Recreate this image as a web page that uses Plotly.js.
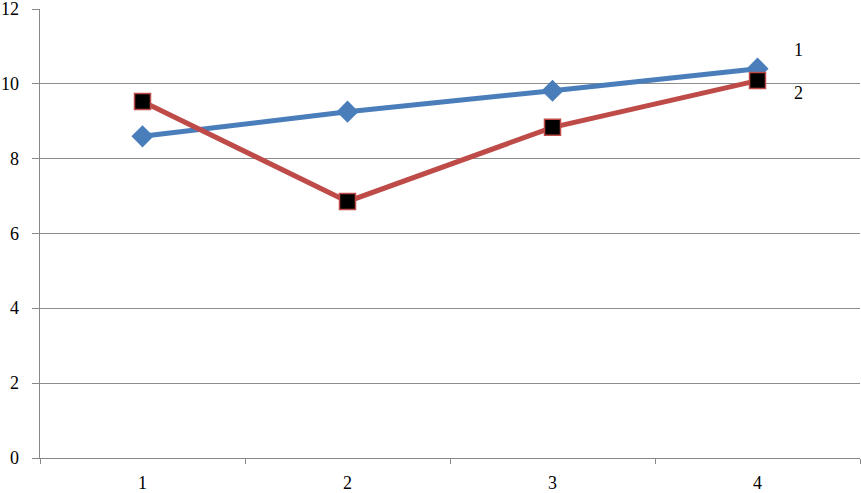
<!DOCTYPE html>
<html>
<head>
<meta charset="utf-8">
<script src="https://cdn.plot.ly/plotly-3.0.1.min.js"></script>
<style>
html,body{margin:0;padding:0;background:#fff}
#chart{width:861px;height:493px}
</style>
</head>
<body>
<div id="chart"></div>
<script>
const categories = [1, 2, 3, 4];
const categoryLabels = ["1", "2", "3", "4"];
const series1Name = "1";
const series1 = [8.6, 9.26, 9.82, 10.41];
const series2Name = "2";
const series2 = [9.53, 6.86, 8.84, 10.09];
const yTicks = [0, 2, 4, 6, 8, 10, 12];
const categoryBounds = [0.5, 1.5, 2.5, 3.5, 4.5];

function mkFont() { return {family: "Liberation Serif", size: 18, color: "#000"}; }

const traces = [
  {x: categories, y: series1, name: series1Name, mode: "lines+markers", type: "scatter",
   line: {color: "#4a7ebb", width: 5}, marker: {symbol: "diamond", size: 17, color: "#4a7ebb"}},
  {x: categories, y: series2, name: series2Name, mode: "lines+markers", type: "scatter",
   line: {color: "#be4b48", width: 5}, marker: {symbol: "square", size: 16, color: "#000", line: {color: "#be4b48", width: 1.5}}}
];

const xLabelAnns = categories.map((c, i) => ({
  xref: "x", yref: "paper", x: c, y: 0, yanchor: "top", yshift: -13,
  text: categoryLabels[i], showarrow: false, font: mkFont()
}));
const yLabelAnns = yTicks.map(v => ({
  xref: "paper", yref: "y", x: 0, y: v, xanchor: "right", yanchor: "middle", xshift: -19,
  text: String(v), showarrow: false, font: mkFont()
}));
const seriesLabelAnns = [
  {xref: "paper", yref: "y", x: 0.925, y: 10.9, text: series1Name, showarrow: false, xanchor: "center", font: mkFont()},
  {xref: "paper", yref: "y", x: 0.925, y: 9.75, text: series2Name, showarrow: false, xanchor: "center", font: mkFont()}
];

const layout = {
  width: 861, height: 493,
  margin: {l: 40, r: 1, t: 9, b: 35},
  paper_bgcolor: "#fff", plot_bgcolor: "#fff",
  showlegend: false,
  font: mkFont(),
  xaxis: {range: [0.5, 4.5], tickmode: "array", tickvals: categoryBounds, ticks: "outside", ticklen: 5,
          tickcolor: "#888", showticklabels: false,
          showgrid: false, zeroline: false, showline: true, linecolor: "#888", linewidth: 1},
  yaxis: {range: [0, 12.005], tickmode: "array", tickvals: yTicks,
          ticks: "outside", ticklen: 7, tickcolor: "#888", showticklabels: false,
          showgrid: true, gridcolor: "#8c8c8c", gridwidth: 1, zeroline: false,
          showline: true, linecolor: "#888", linewidth: 1},
  annotations: xLabelAnns.concat(yLabelAnns, seriesLabelAnns)
};

Plotly.newPlot("chart", traces, layout, {displayModeBar: false, staticPlot: true});
</script>
</body>
</html>
